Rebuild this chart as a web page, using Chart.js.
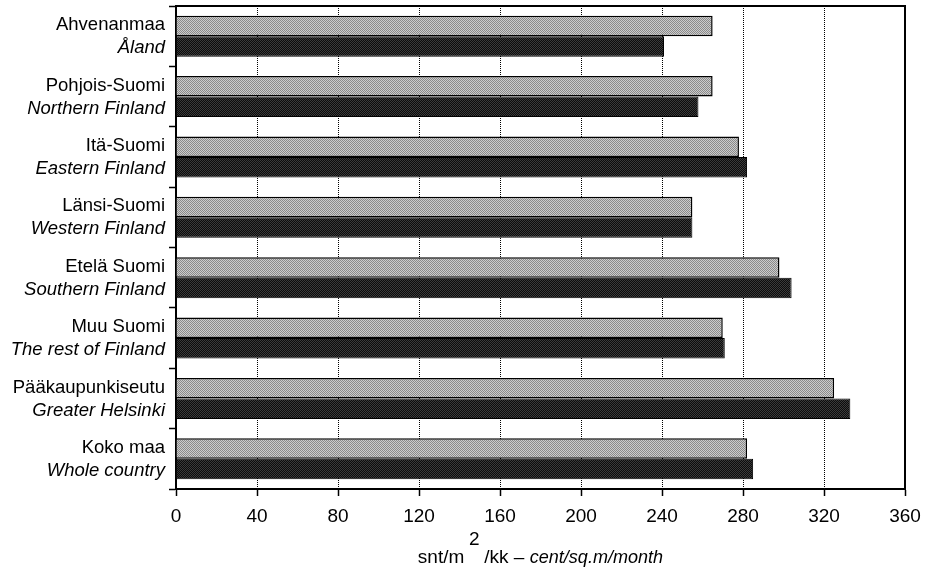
<!DOCTYPE html>
<html>
<head>
<meta charset="utf-8">
<script src="https://cdn.jsdelivr.net/npm/chart.js@4/dist/chart.umd.min.js"></script>
<style>
  html, body { margin: 0; padding: 0; background: #fff; }
  #wrap { width: 927px; height: 576px; }
</style>
</head>
<body>
<div id="wrap"><canvas id="c" width="927" height="576"></canvas></div>
<script>
// ---- data ----
const regionsFi = ["Ahvenanmaa", "Pohjois-Suomi", "Itä-Suomi", "Länsi-Suomi", "Etelä Suomi", "Muu Suomi", "Pääkaupunkiseutu", "Koko maa"];
const regionsEn = ["Åland", "Northern Finland", "Eastern Finland", "Western Finland", "Southern Finland", "The rest of Finland", "Greater Helsinki", "Whole country"];
const seriesLight = [265, 265, 278, 255, 298, 270, 325, 282];
const seriesDark  = [241, 258, 282, 255, 304, 271, 333, 285];
const xTicks = [0, 40, 80, 120, 160, 200, 240, 280, 320, 360];

const FONT = "'Liberation Sans', Arial, sans-serif";

function makePattern(c1, c2) {
  const p = document.createElement('canvas');
  p.width = 2; p.height = 2;
  const g = p.getContext('2d');
  g.fillStyle = c1; g.fillRect(0, 0, 2, 2);
  g.fillStyle = c2; g.fillRect(0, 0, 1, 1); g.fillRect(1, 1, 1, 1);
  return g.createPattern(p, 'repeat');
}
const ctx0 = document.getElementById('c').getContext('2d');
const lightFill = makePattern('#cccccc', '#8a8a8a');
const darkFill = makePattern('#0c0c0c', '#3a3a3a');

function sText(ctx, txt, x, y, align, font, sx) {
  ctx.save();
  ctx.font = font;
  ctx.textAlign = align;
  ctx.textBaseline = 'middle';
  ctx.translate(x, y);
  ctx.scale(sx, 1);
  ctx.fillText(txt, 0, 0);
  ctx.restore();
}
function sWidth(ctx, txt, font, sx) {
  ctx.save(); ctx.font = font; const w = ctx.measureText(txt).width * sx; ctx.restore(); return w;
}

const labelsPlugin = {
  id: 'labelsPlugin',
  afterDraw(chart) {
    const ctx = chart.ctx;
    const ys = chart.scales.y;
    const xs = chart.scales.x;
    const area = chart.chartArea;
    ctx.save();
    ctx.fillStyle = '#000';
    regionsFi.forEach((lab, i) => {
      const y = ys.getPixelForValue(i);
      sText(ctx, lab, area.left - 11, y - 11, 'right', "18.5px " + FONT, 1);
      sText(ctx, regionsEn[i], area.left - 11, y + 12, 'right', "italic 18.5px " + FONT, 1);
    });
    // x tick labels
    xTicks.forEach(v => {
      sText(ctx, String(v), xs.getPixelForValue(v), area.bottom + 28, 'center', "19px " + FONT, 1);
    });
    // solid frame on top and right
    ctx.strokeStyle = '#000';
    ctx.lineWidth = 2;
    ctx.beginPath();
    ctx.moveTo(area.left, area.top);
    ctx.lineTo(area.right, area.top);
    ctx.lineTo(area.right, area.bottom);
    ctx.stroke();
    // axis title with superscript, centred under the plot
    const titleY = area.bottom + 69;
    const f1 = "19px " + FONT, f2 = "italic 19px " + FONT, sqI = 0.95;
    const p1 = "snt/m", p2 = "/kk – ", p3 = "cent/sq.m/month";
    const gap = 20;
    const total = sWidth(ctx, p1, f1, 1) + gap + sWidth(ctx, p2, f1, 1) + sWidth(ctx, p3, f2, sqI);
    let x = (area.left + area.right) / 2 - total / 2;
    sText(ctx, p1, x, titleY, 'left', f1, 1);
    x += sWidth(ctx, p1, f1, 1);
    sText(ctx, "2", x + 10, titleY - 18, 'center', f1, 1);
    x += gap;
    sText(ctx, p2, x, titleY, 'left', f1, 1);
    x += sWidth(ctx, p2, f1, 1);
    sText(ctx, p3, x, titleY, 'left', f2, sqI);
    ctx.restore();
  }
};

new Chart(ctx0, {
  type: 'bar',
  data: {
    labels: regionsFi,
    datasets: [
      { data: seriesLight, backgroundColor: lightFill, borderColor: '#000', borderWidth: 1.5, borderSkipped: 'left' },
      { data: seriesDark, backgroundColor: darkFill, borderColor: '#000', borderWidth: 1, borderSkipped: 'left' }
    ]
  },
  options: {
    indexAxis: 'y',
    responsive: false,
    devicePixelRatio: 1,
    animation: false,
    events: [],
    layout: { padding: { top: 6, right: 22, bottom: 0, left: 0 } },
    plugins: { legend: { display: false }, tooltip: { enabled: false }, title: { display: false } },
    datasets: { bar: { categoryPercentage: 0.68, barPercentage: 1.0 } },
    scales: {
      x: {
        type: 'linear',
        min: 0, max: 360,
        afterBuildTicks(scale) { scale.ticks = xTicks.map(v => ({ value: v })); },
        afterFit(scale) { scale.height = 87; },
        ticks: { display: false },
        grid: {
          color: (c) => (c.tick && (c.tick.value === 0 || c.tick.value === 360)) ? 'rgba(0,0,0,0)' : '#000',
          lineWidth: 1,
          tickColor: '#000',
          tickLength: 7,
          tickWidth: 1.5
        },
        border: { display: true, color: '#000', width: 2, dash: [1, 1] }
      },
      y: {
        afterFit(scale) { scale.width = 176; },
        ticks: { display: false },
        grid: { drawOnChartArea: false, tickLength: 7, tickColor: '#000', tickWidth: 1.5, offset: true },
        border: { display: true, color: '#000', width: 2 }
      }
    }
  },
  plugins: [labelsPlugin]
});
</script>
</body>
</html>
